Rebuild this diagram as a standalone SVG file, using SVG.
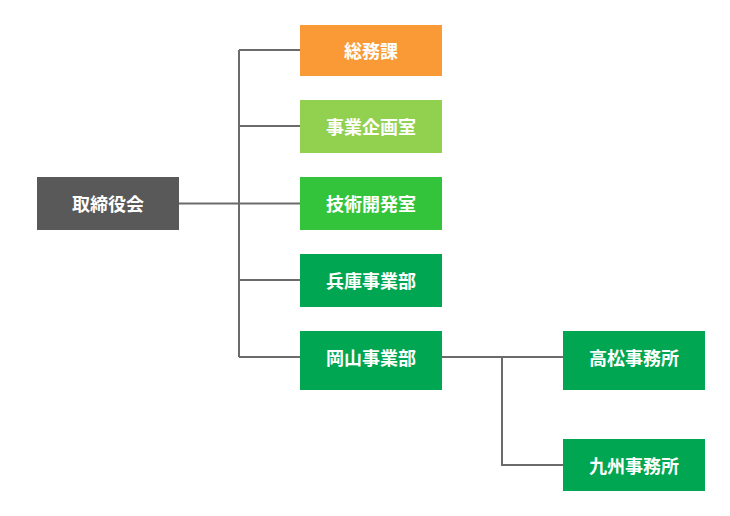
<svg xmlns="http://www.w3.org/2000/svg" width="730" height="516" viewBox="0 0 730 516">
<style>
.n text{font-family:"Noto Sans CJK JP","Noto Sans",sans-serif;font-size:18px;font-weight:bold;fill:#ffffff;text-anchor:middle;dominant-baseline:central}
.c{fill:none;stroke:#6b6b6b;stroke-width:2}
</style>
<rect width="730" height="516" fill="#ffffff"/>
<g id="connectors">
<path class="c" d="M179 203.5H300M239 50V357M239 50H300M239 126H300M239 280H300M239 357H300"/>
<path class="c" d="M442 357H563M502 357V465H563"/>
</g>
<g id="n-board" class="n"><rect x="37" y="177" width="142" height="53" fill="#595959"/><text x="108" y="203">取締役会</text></g>
<g id="n-soumu" class="n"><rect x="300" y="25" width="142" height="51" fill="#F99A36"/><text x="371" y="50">総務課</text></g>
<g id="n-kikaku" class="n"><rect x="300" y="100" width="142" height="53" fill="#92D050"/><text x="371" y="126">事業企画室</text></g>
<g id="n-gijutsu" class="n"><rect x="300" y="177" width="142" height="53" fill="#33C43C"/><text x="371" y="203">技術開発室</text></g>
<g id="n-hyogo" class="n"><rect x="300" y="254" width="142" height="53" fill="#00A651"/><text x="371" y="280">兵庫事業部</text></g>
<g id="n-okayama" class="n"><rect x="300" y="331" width="142" height="59" fill="#00A651"/><text x="371" y="357">岡山事業部</text></g>
<g id="n-takamatsu" class="n"><rect x="563" y="331" width="142" height="59" fill="#00A651"/><text x="634" y="357">高松事務所</text></g>
<g id="n-kyushu" class="n"><rect x="563" y="439" width="142" height="52" fill="#00A651"/><text x="634" y="464.5">九州事務所</text></g>
</svg>
